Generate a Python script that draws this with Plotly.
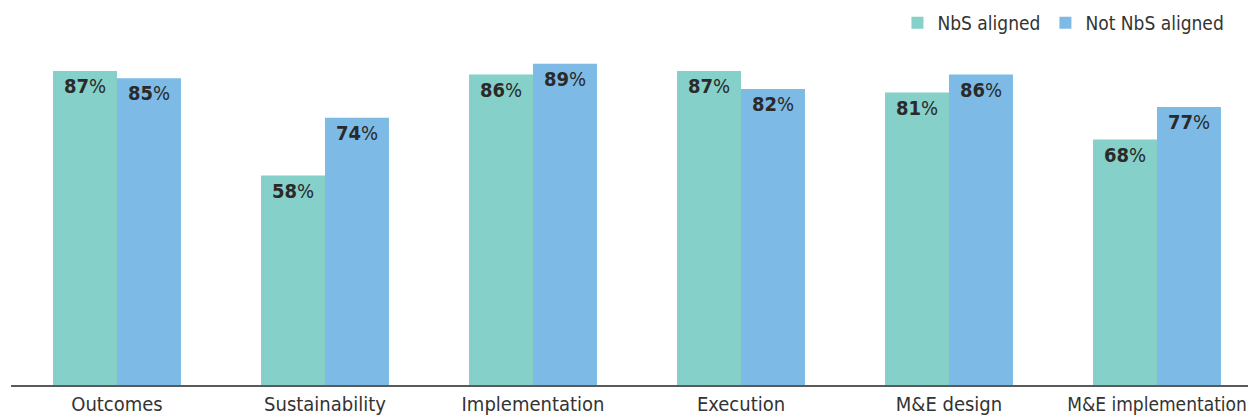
import plotly.graph_objects as go

categories = ["Outcomes", "Sustainability", "Implementation", "Execution", "M&E design", "M&E implementation"]
nbs_aligned = [87, 58, 86, 87, 81, 68]
not_nbs_aligned = [85, 74, 89, 82, 86, 77]

GREEN = "#85D0C8"
BLUE = "#7DBBE6"
FONT = "DejaVu Sans Condensed, Roboto Condensed, Roboto, sans-serif"


def labels(vals):
    return [f"<b>{v}</b>%" for v in vals]


# the last category name sits at the right edge, so it is set a little smaller
tick_text = [c.replace("&", "&amp;") for c in categories]
tick_text[-1] = f'<span style="font-size:19px">{tick_text[-1]}</span>'

fig = go.Figure()
fig.add_trace(go.Bar(
    x=categories, y=nbs_aligned, name="NbS aligned", marker_color=GREEN,
    marker_line_width=0,
    text=labels(nbs_aligned), textposition="inside", insidetextanchor="end",
    textfont=dict(family=FONT, size=20, color="#2a2a2a"), textangle=0,
))
fig.add_trace(go.Bar(
    x=categories, y=not_nbs_aligned, name="Not NbS aligned", marker_color=BLUE,
    marker_line_width=0,
    text=labels(not_nbs_aligned), textposition="inside", insidetextanchor="end",
    textfont=dict(family=FONT, size=20, color="#2a2a2a"), textangle=0,
))

fig.update_layout(
    width=1248, height=418,
    margin=dict(l=11, r=0, t=24, b=33, autoexpand=False),
    paper_bgcolor="white", plot_bgcolor="white",
    barmode="group", bargap=0.385, bargroupgap=0,
    font=dict(family=FONT, color="#333333"),
    showlegend=True,
    legend=dict(
        orientation="h", x=0.985, xanchor="right", y=1.003, yanchor="middle",
        font=dict(family=FONT, size=19, color="#333333"),
        traceorder="normal",
    ),
    uniformtext=dict(mode="show", minsize=10),
)
fig.update_xaxes(
    range=[-0.5096, 5.4375], showgrid=False, automargin=False,
    tickmode="array", tickvals=categories, ticktext=tick_text,
    showline=True, linecolor="#5a5a5a", linewidth=2,
    ticks="", tickfont=dict(family=FONT, size=20, color="#333333"),
)
fig.update_yaxes(range=[0, 100], visible=False, showgrid=False, automargin=False)

fig.write_html("out.html")
